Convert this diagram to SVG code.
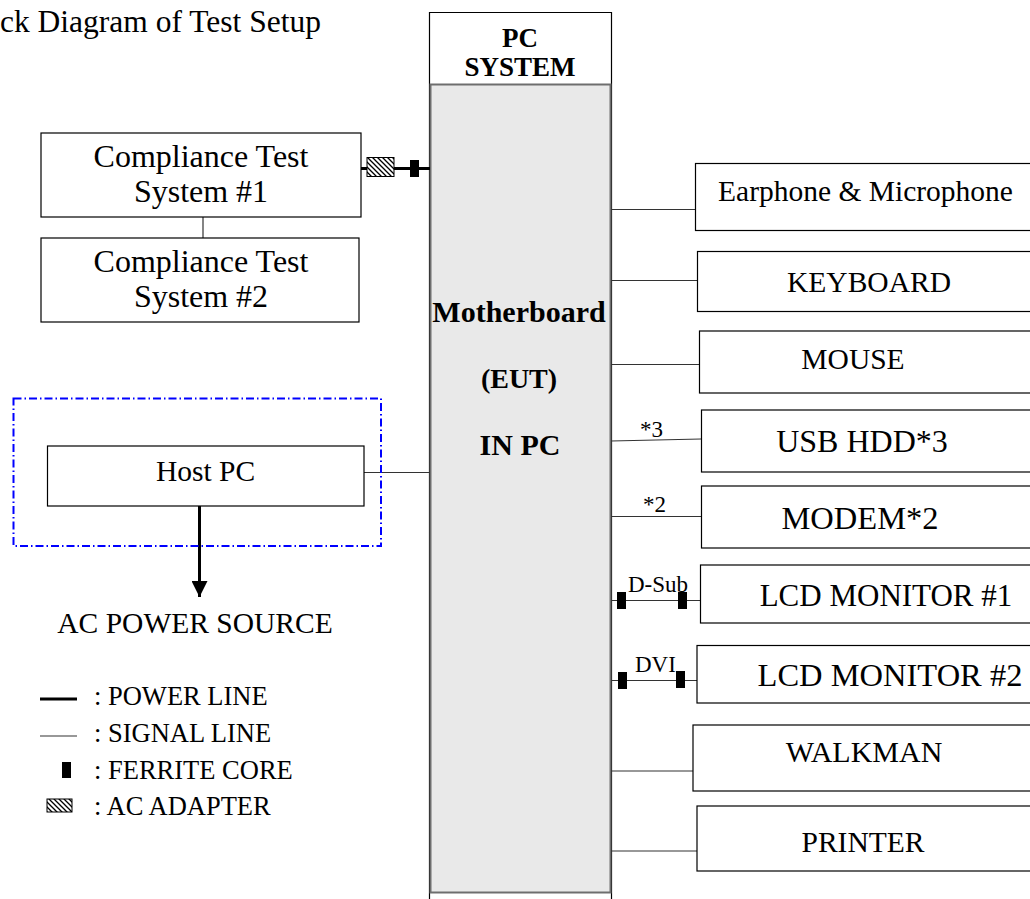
<svg xmlns="http://www.w3.org/2000/svg" width="1030" height="899" viewBox="0 0 1030 899">
  <style>
    .t { font-family: "Liberation Serif", "Times New Roman", serif; font-size: 29.5px; fill: #000; }
    .b { font-family: "Liberation Serif", "Times New Roman", serif; font-size: 27px; font-weight: bold; fill: #000; }
    .lbl { font-family: "Liberation Serif", "Times New Roman", serif; font-size: 23px; fill: #000; }
    .lg { font-family: "Liberation Serif", "Times New Roman", serif; font-size: 26.5px; fill: #000; }
    .box { fill: #fff; stroke: #000; stroke-width: 1.2; }
    .sig { stroke: #333; stroke-width: 1.2; fill: none; }
    .pwr { stroke: #000; stroke-width: 3; fill: none; }
    .fc { fill: #000; }
    .ad { fill: url(#hatch); stroke: #000; stroke-width: 1; }
  </style>
  <defs>
    <pattern id="hatch" patternUnits="userSpaceOnUse" width="5" height="5">
      <rect width="5" height="5" fill="#fff"/>
      <path d="M-1,-1 L6,6 M-1,4 L1,6 M4,-1 L6,1" stroke="#000" stroke-width="1.3"/>
    </pattern>
    <marker id="arrow" viewBox="0 0 16 16" refX="16" refY="8" markerWidth="16" markerHeight="16" markerUnits="userSpaceOnUse" orient="auto">
      <path d="M0,0 L16,8 L0,16 Z" fill="#000"/>
    </marker>
  </defs>

  <rect width="1030" height="899" fill="#fff"/>

  <text class="t" x="0" y="32" style="font-size:31.5px">ck Diagram of Test Setup</text>

  <!-- PC system enclosure -->
  <g id="pc-system">
    <path d="M429.5,899 V12.5 H611.5 V899" fill="none" stroke="#000" stroke-width="1.2"/>
    <rect x="430.5" y="84.5" width="180" height="808" fill="#e9e9e9" stroke="#6e6e6e" stroke-width="2"/>
    <text class="b" x="520" y="47" text-anchor="middle">PC</text>
    <text class="b" x="520" y="76" text-anchor="middle">SYSTEM</text>
    <text class="b" x="519" y="322" text-anchor="middle" style="font-size:30px">Motherboard</text>
    <text class="b" x="519" y="388" text-anchor="middle" style="font-size:28px">(EUT)</text>
    <text class="b" x="520" y="455" text-anchor="middle" style="font-size:30px">IN PC</text>
  </g>

  <!-- connectors -->
  <g id="connectors">
    <line class="pwr" x1="361" y1="168.5" x2="430" y2="168.5"/>
    <line class="sig" x1="203" y1="217" x2="203" y2="238"/>
    <line class="sig" x1="364" y1="472.5" x2="430" y2="472.5"/>
    <line class="pwr" x1="199.5" y1="506" x2="199.5" y2="597" marker-end="url(#arrow)"/>
    <line class="sig" x1="611" y1="209.5" x2="695" y2="209.5"/>
    <line class="sig" x1="611" y1="280.5" x2="697" y2="280.5"/>
    <line class="sig" x1="611" y1="364.5" x2="699" y2="364.5"/>
    <line class="sig" x1="611" y1="441" x2="701" y2="439"/>
    <line class="sig" x1="611" y1="516.5" x2="701" y2="516.5"/>
    <line class="sig" x1="611" y1="600.5" x2="700" y2="600.5"/>
    <line class="sig" x1="611" y1="680.5" x2="697" y2="680.5"/>
    <line class="sig" x1="611" y1="771" x2="693" y2="771"/>
    <line class="sig" x1="611" y1="851" x2="697" y2="851"/>
    <!-- AC adapter and ferrite cores on cables -->
    <rect class="ad" x="367" y="157.5" width="27" height="19"/>
    <rect class="fc" x="410" y="160" width="9" height="17"/>
    <rect class="fc" x="617" y="592" width="9" height="17"/>
    <rect class="fc" x="678" y="592" width="9" height="17"/>
    <rect class="fc" x="618" y="672" width="9" height="17"/>
    <rect class="fc" x="676" y="671" width="9" height="17"/>
    <text class="lbl" x="640" y="437">*3</text>
    <text class="lbl" x="643" y="512">*2</text>
    <text class="lbl" x="628" y="592">D-Sub</text>
    <text class="lbl" x="635" y="672">DVI</text>
  </g>

  <g id="cts1">
    <rect class="box" x="41" y="133" width="320" height="84"/>
    <text class="t" x="201" y="167" text-anchor="middle" style="font-size:32px">Compliance Test</text>
    <text class="t" x="201" y="202" text-anchor="middle" style="font-size:32px">System #1</text>
  </g>
  <g id="cts2">
    <rect class="box" x="41" y="238" width="318" height="84"/>
    <text class="t" x="201" y="272" text-anchor="middle" style="font-size:32px">Compliance Test</text>
    <text class="t" x="201" y="307" text-anchor="middle" style="font-size:32px">System #2</text>
  </g>

  <g id="host-pc">
    <rect x="13.5" y="398.5" width="367.5" height="147.5" fill="none" stroke="#0000ff" stroke-width="2" stroke-dasharray="8,3,1.5,3"/>
    <rect class="box" x="47.5" y="446" width="316.5" height="60"/>
    <text class="t" x="205.5" y="481" text-anchor="middle">Host PC</text>
  </g>

  <g id="ac-power">
    <text class="t" x="195" y="633" text-anchor="middle">AC POWER SOURCE</text>
  </g>

  <g id="earphone">
    <rect class="box" x="695.5" y="163.5" width="345" height="67"/>
    <text class="t" x="865.5" y="201" text-anchor="middle">Earphone &amp; Microphone</text>
  </g>
  <g id="keyboard">
    <rect class="box" x="697.5" y="251.5" width="345" height="60"/>
    <text class="t" x="869" y="292" text-anchor="middle">KEYBOARD</text>
  </g>
  <g id="mouse">
    <rect class="box" x="699.5" y="331" width="345" height="62"/>
    <text class="t" x="853" y="369" text-anchor="middle">MOUSE</text>
  </g>
  <g id="usb-hdd">
    <rect class="box" x="701.5" y="410" width="345" height="62"/>
    <text class="t" x="862" y="452" text-anchor="middle" style="font-size:32px">USB HDD*3</text>
  </g>
  <g id="modem">
    <rect class="box" x="701.5" y="486" width="345" height="62"/>
    <text class="t" x="860" y="529" text-anchor="middle" style="font-size:32.5px">MODEM*2</text>
  </g>
  <g id="lcd1">
    <rect class="box" x="700.5" y="565" width="345" height="58"/>
    <text class="t" x="886" y="606" text-anchor="middle" style="font-size:31px">LCD MONITOR #1</text>
  </g>
  <g id="lcd2">
    <rect class="box" x="697" y="645.5" width="345" height="57.5"/>
    <text class="t" x="890" y="686" text-anchor="middle" style="font-size:32.5px">LCD MONITOR #2</text>
  </g>
  <g id="walkman">
    <rect class="box" x="693" y="725" width="345" height="66"/>
    <text class="t" x="864" y="762" text-anchor="middle" style="font-size:30px">WALKMAN</text>
  </g>
  <g id="printer">
    <rect class="box" x="697" y="806" width="345" height="65"/>
    <text class="t" x="863" y="852" text-anchor="middle">PRINTER</text>
  </g>

  <!-- legend -->
  <g id="legend">
    <line x1="40" y1="699" x2="77" y2="699" stroke="#000" stroke-width="3"/>
    <text class="lg" x="94" y="705">: POWER LINE</text>
    <line x1="40" y1="736" x2="77" y2="736" stroke="#333" stroke-width="1.2"/>
    <text class="lg" x="94" y="742">: SIGNAL LINE</text>
    <rect class="fc" x="62" y="762" width="9" height="16"/>
    <text class="lg" x="94" y="779">: FERRITE CORE</text>
    <rect class="ad" x="47" y="799" width="25" height="13"/>
    <text class="lg" x="94" y="815">: AC ADAPTER</text>
  </g>
</svg>
